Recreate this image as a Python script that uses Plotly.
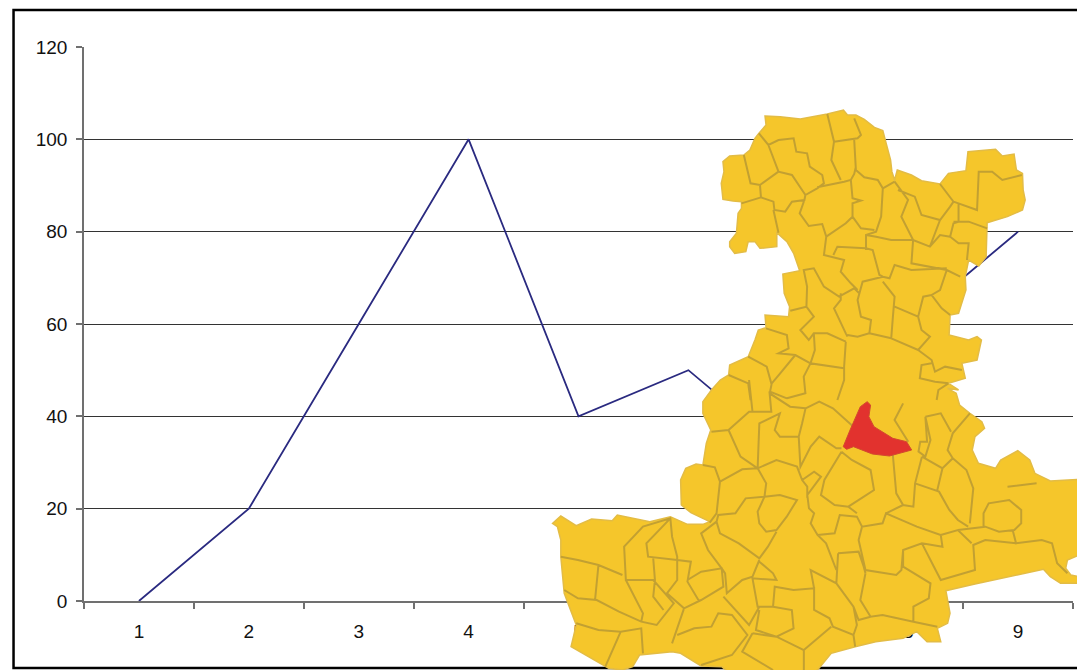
import plotly.graph_objects as go

categories = ["1", "2", "3", "4", "5", "6", "7", "8", "9"]
values = [0, 20, 60, 100, 40, 50, 30, 60, 80]
y_ticks = [0, 20, 40, 60, 80, 100, 120]

L, T, R, B = 83.5, 47, 1073, 601
W, H = 1077, 670

# Map illustration, traced in two crops of the reference
def c3(p): return (679 + p[0] * 397 / 1179, 100 + p[1] / 3)
def c4(p): return (540 + p[0] * 537 / 1568, 380 + p[1] / 3)

outline_a = [(255,48),(300,50),(360,57),(440,42),(488,30),(500,45),(525,45),(550,58),(580,82),(605,92),(615,130),(628,180),(632,215),(640,240),(648,210),(690,225),(720,242),(775,252),(800,220),(852,212),(858,155),(940,148),(960,168),(995,162),(1002,210),(1020,220),(1022,270),(1028,300),(1020,330),(975,350),(915,368),(912,470),(890,498),(860,480),(850,530),(852,570),(830,640),(805,645),(802,705),(860,720),(885,710),(898,720),(885,780),(840,790),(850,835),(800,850),(830,870)]
outline_b = [(1190,25),(1215,40),(1225,75),(1255,100),(1290,125),(1298,145),(1270,170),(1262,210),(1280,250),(1330,265),(1345,240),(1395,212),(1430,240),(1445,280),(1490,303),(1575,298),(1575,525),(1540,540),(1535,565),(1550,585),(1575,590),(1575,610),(1520,610),(1490,590),(1470,568),(1270,612),(1185,632),(1197,700),(1190,730),(1160,745),(1170,785),(1130,785),(1100,755),(1060,775),(980,785),(920,800),(850,820),(810,870),(780,885),(560,885),(530,860),(470,858),(410,820),(385,815),(290,825),(270,860),(240,870),(200,865),(90,800),(105,735),(92,700),(70,640),(60,530),(60,480),(50,440),(36,430),(60,408),(105,437),(150,417),(210,422),(225,405),(320,425),(380,410),(430,433),(475,433),(495,425),(440,398),(412,375),(410,300),(425,265),(455,252),(475,255),(485,190),(498,150),(475,100),(475,65),(500,30)]
outline_c = [(122,840),(147,825),(150,795),(205,770),(225,720),(235,690),(258,683),(255,645),(325,650),(328,620),(312,580),(308,522),(358,512),(340,460),(320,425),(290,398),(290,440),(240,445),(225,425),(205,425),(198,455),(165,460),(150,440),(150,425),(170,400),(175,340),(185,325),(185,305),(160,303),(130,298),(125,250),(133,215),(130,185),(150,168),(192,165),(210,150),(225,115),(237,100),(258,75)]

borders_a = [
 [(237,100),(265,135),(295,120),(340,115),(348,155),(380,160),(388,200),(425,225),(430,250),(410,265),(375,285),(335,225),(295,215),(265,135)],
 [(192,165),(212,250),(240,255),(295,215)],
 [(240,255),(243,292),(185,310)],
 [(243,292),(280,305),(283,330),(315,335),(335,305),(372,300),(375,285)],
 [(280,330),(295,398)],
 [(372,300),(358,340),(385,378),(425,372),(437,410),(430,465),(490,480),(480,515),(510,550),(530,570)],
 [(410,262),(490,245),(510,240),(520,222),(525,200)],
 [(440,42),(460,125),(452,180),(480,240)],
 [(460,125),(530,115),(540,105),(520,55)],
 [(520,120),(525,210),(550,232),(590,240),(605,265),(640,245)],
 [(510,240),(515,295),(540,302),(515,310),(515,350),(540,385),(580,390)],
 [(605,265),(600,350),(585,395),(555,405),(555,450)],
 [(515,350),(495,370),(437,410)],
 [(458,465),(470,440),(555,445),(575,450),(595,525),(605,530)],
 [(640,245),(680,300),(660,350),(695,420)],
 [(555,405),(585,410),(630,420),(695,420),(745,440),(775,405),(805,410)],
 [(650,270),(700,290),(720,345),(775,360),(805,320),(815,305),(775,252)],
 [(775,360),(745,440)],
 [(830,310),(830,365),(815,370),(805,410),(830,430),(860,430),(855,480)],
 [(815,365),(860,365),(915,385)],
 [(815,305),(885,330),(890,215),(930,215),(960,240),(1018,225)],
 [(695,420),(690,490),(795,510),(835,530)],
 [(605,530),(625,535),(640,495),(690,510),(795,505)],
 [(605,545),(640,590),(635,650),(630,715),(565,700)],
 [(605,530),(545,545),(530,600),(540,650),(570,660),(565,700),(530,710),(500,705)],
 [(480,580),(480,600),(460,625),(495,700),(500,710)],
 [(535,580),(520,565),(475,590),(430,560),(400,505),(370,510),(380,560),(378,620),(330,632)],
 [(378,620),(400,650),(360,690),(385,720),(400,700),(440,700),(495,725)],
 [(795,510),(775,570),(750,585),(780,625),(805,645)],
 [(750,585),(725,590),(710,650),(640,620)],
 [(710,650),(720,690),(745,710),(710,750),(630,715)],
 [(710,750),(750,780),(760,815),(790,800),(840,810)],
 [(750,790),(720,795),(715,835),(760,845),(800,850)],
 [(800,850),(770,870),(765,900)],
 [(495,725),(490,800),(490,840),(470,900)],
 [(400,700),(403,750),(390,790),(490,805)],
 [(258,685),(320,705),(325,745),(295,760),(345,765),(390,790)],
 [(345,765),(300,820),(275,850),(270,875),(320,895)],
 [(390,790),(370,830),(375,880),(320,895)],
 [(205,770),(260,800),(275,855)],
 [(147,825),(205,850),(212,900)],
]
borders_b = [
 [(500,155),(550,150),(610,95),(620,95),(610,0)],
 [(550,150),(585,230),(635,265),(640,130),(700,100),(685,150),(700,170),(755,170),(765,130),(775,85),(815,65),(855,85),(915,140)],
 [(620,95),(675,95),(670,40),(730,80),(775,85)],
 [(755,170),(760,260),(790,200),(815,170),(865,205),(880,205)],
 [(880,215),(830,300),(820,345),(860,375),(900,380),(975,330),(965,270),(910,240),(880,215)],
 [(635,265),(690,240),(750,260),(765,300),(780,320),(780,345),(820,290),(800,275),(765,300)],
 [(635,265),(660,310),(655,350),(600,355),(570,400),(520,405),(515,425)],
 [(525,305),(590,268),(635,265)],
 [(475,255),(510,262),(525,305),(515,400),(495,428)],
 [(655,350),(700,345),(750,360),(720,410),(690,450),(660,455),(640,430),(635,395),(655,350)],
 [(780,345),(785,385),(800,400),(790,430),(810,465),(835,490),(865,570)],
 [(690,455),(665,500),(640,535),(580,490),(525,460),(515,425)],
 [(515,425),(470,460),(490,510),(530,565),(540,580),(545,640),(590,600),(620,590),(640,540)],
 [(640,545),(680,580),(690,600),(620,595),(635,680),(680,680),(685,620),(740,630),(800,625),(800,690),(845,715),(855,740),(915,765),(925,735),(915,680),(865,610),(790,570),(800,625)],
 [(810,465),(860,460),(875,405),(925,410),(940,440),(1000,430),(1010,400),(1100,440),(1170,465),(1175,500),(1115,490),(1060,510),(1055,570),(1040,585),(950,570),(930,480),(940,440)],
 [(900,380),(925,400)],
 [(1030,225),(1040,340),(1060,375),(1090,380),(1095,310),(1115,230)],
 [(1095,310),(1165,335),(1195,390),(1220,420),(1250,440)],
 [(1060,375),(1010,400)],
 [(1115,230),(1175,265),(1160,330)],
 [(1175,265),(1205,235),(1190,210),(1205,160),(1255,100)],
 [(1205,235),(1245,270),(1265,325),(1255,430)],
 [(1125,110),(1130,185),(1110,185),(1105,215),(1125,230),(1140,180),(1125,110)],
 [(1125,110),(1170,100),(1200,155)],
 [(1060,70),(1035,120),(1075,185)],
 [(1220,450),(1300,440),(1340,455),(1385,450),(1405,430),(1405,390),(1370,360),(1310,370),(1295,400),(1295,440)],
 [(1365,320),(1450,310)],
 [(1380,450),(1390,490),(1465,480),(1495,490),(1510,550),(1540,580)],
 [(1390,490),(1300,480),(1265,495),(1270,570),(1170,600),(1150,560),(1115,490)],
 [(1260,490),(1220,450),(1170,465)],
 [(1060,510),(1060,560),(1140,610),(1135,655),(1090,680),(1090,725),(1000,705),(965,710),(935,660),(950,580)],
 [(1090,725),(1160,740)],
 [(870,520),(930,515),(945,560),(950,580)],
 [(870,520),(865,610)],
 [(965,710),(930,720),(915,680)],
 [(60,530),(110,540),(170,555),(240,585)],
 [(170,555),(160,660)],
 [(70,630),(110,655),(165,660),(230,695),(295,725),(340,735),(390,670),(330,600),(250,600),(245,500),(300,440),(380,415),(385,470),(400,530),(400,600),(370,640),(420,685),(470,660),(535,620),(530,565),(470,575),(430,600)],
 [(380,415),(310,490),(315,530),(400,540),(440,545),(430,605),(465,665)],
 [(330,535),(335,600),(330,650),(360,690)],
 [(250,600),(300,700),(295,725)],
 [(105,730),(170,750),(235,755),(295,745),(300,820)],
 [(235,755),(190,860)],
 [(420,685),(400,745),(385,790)],
 [(400,765),(450,745),(500,740),(520,700),(560,705),(605,765),(560,825),(470,855)],
 [(535,650),(610,735),(640,680)],
 [(620,760),(590,815),(680,870)],
 [(640,690),(630,750),(690,770),(740,745),(735,690),(680,680)],
 [(620,760),(690,770),(770,810),(770,870)],
 [(770,810),(850,740)],
 [(915,765),(920,800)],
]
red_area = [(885,200),(905,150),(935,80),(955,65),(965,75),(960,110),(975,140),(1030,175),(1070,185),(1085,210),(1020,228),(970,222),(915,200),(895,208)]


def to_paper(p):
    return (p[0] - L) / (R - L), (B - p[1]) / (B - T)


def svg(points, closed=False):
    pts = [to_paper(p) for p in points]
    s = "M" + " L".join(f"{q[0]:.5f},{q[1]:.5f}" for q in pts)
    return s + (" Z" if closed else "")


outline = [c3(p) for p in outline_a] + [c4(p) for p in outline_b] + [c3(p) for p in outline_c]
inner = " ".join([svg([c3(p) for p in b]) for b in borders_a] + [svg([c4(p) for p in b]) for b in borders_b])
red = [c4(p) for p in red_area]

frame = dict(type="rect", xref="paper", yref="paper", layer="above",
             x0=(13 - L) / (R - L), x1=(1095 - L) / (R - L),
             y0=(B - 668) / (B - T), y1=(B - 10) / (B - T),
             line=dict(color="#000000", width=2.5), fillcolor="rgba(0,0,0,0)")

shapes = [
    frame,
    dict(type="path", xref="paper", yref="paper", layer="above", path=svg(outline, True),
         fillcolor="#f5c62b", line=dict(color="#e3bc45", width=1.5)),
    dict(type="path", xref="paper", yref="paper", layer="above", path=inner,
         fillcolor="rgba(0,0,0,0)", line=dict(color="#c2a032", width=2)),
    dict(type="path", xref="paper", yref="paper", layer="above", path=svg(red, True),
         fillcolor="#e2322e", line=dict(color="#d24a2e", width=1)),
]

fig = go.Figure(go.Scatter(x=categories, y=values, mode="lines",
                           line=dict(color="#2a2a80", width=1.8), hoverinfo="skip"))
axis_font = dict(family="Liberation Sans, Arial, sans-serif", size=19, color="#111111")
fig.update_layout(
    width=W, height=670, autosize=False, showlegend=False,
    paper_bgcolor="white", plot_bgcolor="white",
    margin=dict(l=L, r=W - R, t=T, b=670 - B),
    shapes=shapes,
)
fig.update_xaxes(type="category", categoryorder="array", categoryarray=categories,
                 range=[-0.5, 8.5], tickson="boundaries", ticks="outside", ticklen=6,
                 tickcolor="#707070", tickwidth=1.5, showgrid=False, showline=True,
                 linecolor="#707070", linewidth=1.5, zeroline=False, tickfont=axis_font,
                 ticklabelstandoff=12)
fig.update_yaxes(range=[0, 120], tickvals=y_ticks, ticks="outside", ticklen=6,
                 tickcolor="#707070", tickwidth=1.5, showgrid=True, gridcolor="#333333",
                 gridwidth=1, showline=True, linecolor="#707070", linewidth=1.5,
                 zeroline=False, tickfont=axis_font, ticklabelstandoff=5)

fig.write_html("out.html", config=dict(displayModeBar=False),
               post_script="document.body.style.margin='0';document.body.style.overflow='hidden';window.dispatchEvent(new Event('resize'));")
